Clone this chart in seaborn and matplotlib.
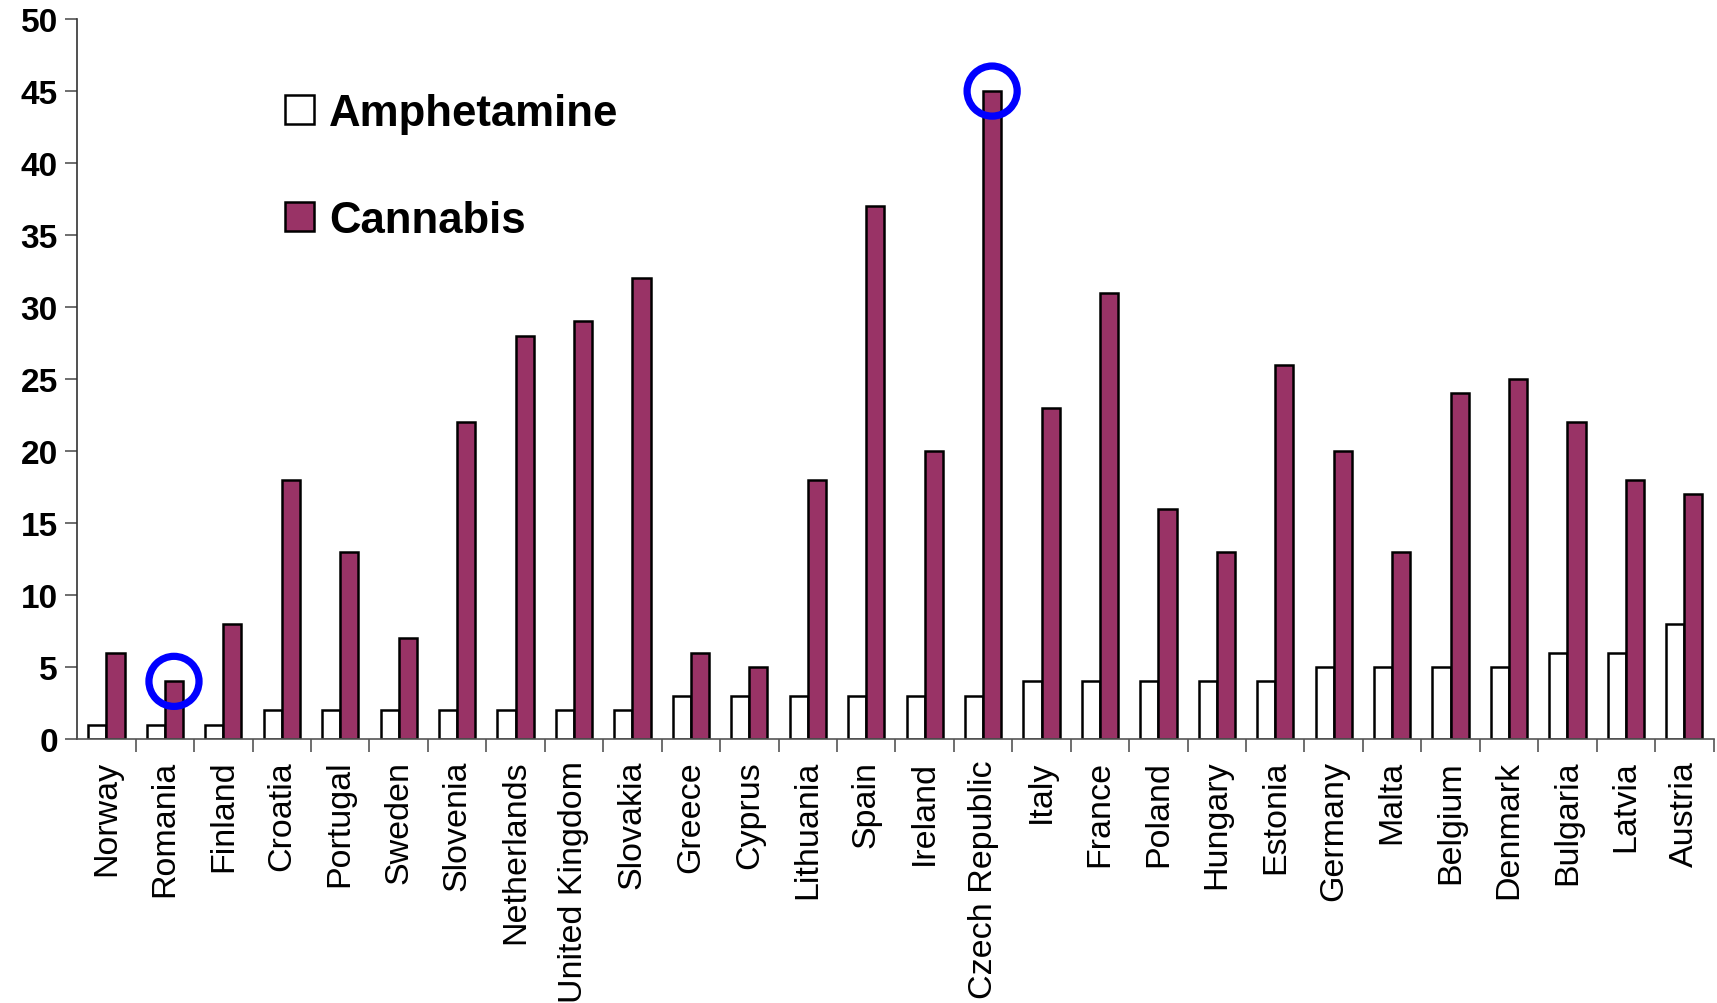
import matplotlib
matplotlib.use("Agg")
import matplotlib.pyplot as plt
from matplotlib.patches import Patch
import pandas as pd
import seaborn as sns

# Data
COUNTRIES = ["Norway", "Romania", "Finland", "Croatia", "Portugal", "Sweden",
             "Slovenia", "Netherlands", "United Kingdom", "Slovakia", "Greece",
             "Cyprus", "Lithuania", "Spain", "Ireland", "Czech Republic", "Italy",
             "France", "Poland", "Hungary", "Estonia", "Germany", "Malta",
             "Belgium", "Denmark", "Bulgaria", "Latvia", "Austria"]
AMPHETAMINE = [1, 1, 1, 2, 2, 2, 2, 2, 2, 2, 3, 3, 3, 3, 3, 3, 4, 4, 4, 4, 4,
               5, 5, 5, 5, 6, 6, 8]
CANNABIS = [6, 4, 8, 18, 13, 7, 22, 28, 29, 32, 6, 5, 18, 37, 20, 45, 23, 31,
            16, 13, 26, 20, 13, 24, 25, 22, 18, 17]
HIGHLIGHT = ["Romania", "Czech Republic"]
Y_TICKS = list(range(0, 51, 5))

PLUM = "#993366"
BAR_WIDTH = 0.62

sns.set_style("white")
plt.rcParams["font.family"] = ["Liberation Sans", "DejaVu Sans"]
plt.rcParams["text.color"] = "black"
plt.rcParams["xtick.color"] = "black"
plt.rcParams["ytick.color"] = "black"

df = pd.DataFrame({
    "country": COUNTRIES * 2,
    "value": AMPHETAMINE + CANNABIS,
    "drug": ["Amphetamine"] * len(COUNTRIES) + ["Cannabis"] * len(COUNTRIES),
})

fig = plt.figure(figsize=(17.17, 10.04), dpi=100)
ax = fig.add_axes([0.045, 0.263, 0.953, 0.717])

sns.barplot(data=df, x="country", y="value", hue="drug",
            hue_order=["Amphetamine", "Cannabis"], order=COUNTRIES,
            palette={"Amphetamine": "white", "Cannabis": PLUM},
            saturation=1, edgecolor="black", linewidth=1.8, width=BAR_WIDTH,
            errorbar=None, legend=False, ax=ax)

# blue rings on top of highlighted cannabis bars
for name in HIGHLIGHT:
    i = COUNTRIES.index(name)
    ax.scatter(i + BAR_WIDTH / 4, CANNABIS[i], s=1300, marker="o",
               facecolors="none", edgecolors="#0000ff", linewidths=5.2, zorder=5)

ax.set_xlim(-0.5, len(COUNTRIES) - 0.5)
ax.set_ylim(0, 50)
ax.set_yticks(Y_TICKS)
ax.set_yticklabels([str(t) for t in Y_TICKS], fontsize=24, fontweight="bold")
ax.set_xticks(range(len(COUNTRIES)))
ax.set_xticklabels(COUNTRIES, rotation=90, fontsize=24.5)
ax.set_xticks([i + 0.5 for i in range(len(COUNTRIES))], minor=True)
ax.tick_params(axis="x", which="major", length=0, pad=15)
ax.tick_params(axis="x", which="minor", length=9, width=1.2, color="#555555",
               direction="out", bottom=True)
ax.tick_params(axis="y", length=9, width=1.2, color="#555555", direction="out",
               left=True, pad=5)
ax.set_xlabel("")
ax.set_ylabel("")

sns.despine(ax=ax)
ax.spines["left"].set_color("#333333")
ax.spines["bottom"].set_color("#555555")
ax.spines["left"].set_linewidth(1.2)
ax.spines["bottom"].set_linewidth(1.2)

handles = [Patch(facecolor="white", edgecolor="black", linewidth=1.8),
           Patch(facecolor=PLUM, edgecolor="black", linewidth=1.8)]
ax.legend(handles, ["Amphetamine", "Cannabis"], loc="upper left",
          bbox_to_anchor=(0.103, 0.952), frameon=False,
          prop={"size": 31.5, "weight": "bold"},
          handlelength=0.65, handleheight=0.65, handletextpad=0.35,
          labelspacing=1.5)

fig.savefig("out.png", dpi=100)
